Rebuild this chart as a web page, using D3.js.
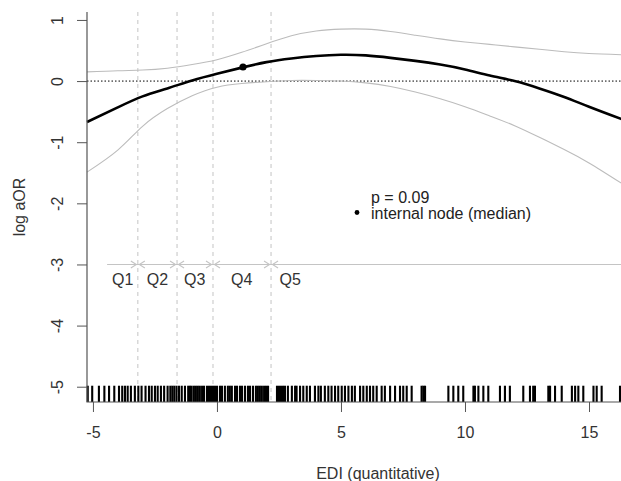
<!DOCTYPE html>
<html>
<head>
<meta charset="utf-8">
<script src="https://cdn.jsdelivr.net/npm/d3@7"></script>
<style>
  body { margin: 0; background: #fff; }
  text { font-family: "Liberation Sans", Arial, sans-serif; }
</style>
</head>
<body>
<div id="chart"></div>
<script>
// x grid of the fitted spline (EDI)
var gridX = [-5.24, -4, -3, -2, -1, 0, 1, 2, 3, 4, 5, 6, 7, 8, 9, 10, 11, 12, 13, 14, 15, 16.3];
// log aOR estimate and 95% band
var fitY = [-0.67, -0.43, -0.25, -0.12, 0.01, 0.12, 0.22, 0.31, 0.37, 0.41, 0.43, 0.42, 0.38, 0.33, 0.27, 0.19, 0.09, 0.0, -0.12, -0.26, -0.42, -0.62];
var upperY = [0.15, 0.17, 0.18, 0.21, 0.27, 0.35, 0.47, 0.61, 0.74, 0.82, 0.85, 0.85, 0.81, 0.75, 0.69, 0.64, 0.60, 0.56, 0.52, 0.48, 0.45, 0.43];
var lowerY = [-1.49, -1.13, -0.74, -0.45, -0.24, -0.10, -0.04, -0.01, 0.01, 0.01, 0.0, -0.03, -0.09, -0.18, -0.29, -0.42, -0.57, -0.73, -0.92, -1.12, -1.34, -1.67];

// quintile cut points and labels
var quintCuts = [-3.19, -1.61, -0.16, 2.18];
var quintEnds = [-4.43, 16.6];
var quintLabels = ["Q1", "Q2", "Q3", "Q4", "Q5"];
var quintLabelX = [-3.8, -2.4, -0.9, 1.0, 2.95];
var quintLevel = -3;

// internal node (median)
var nodeX = 1.05, nodeY = 0.23;

// rug of observed EDI values
var rugX = [-5.21, -5.03, -4.76, -4.54, -4.35, -4.14, -3.95, -3.82, -3.71, -3.60, -3.47, -3.31, -3.17, -3.04,
  -2.88, -2.74, -2.63, -2.50, -2.39, -2.26, -2.13, -1.99, -1.88, -1.80, -1.72, -1.63, -1.53, -1.42, -1.29,
  -1.16, -1.09, -1.02, -0.93, -0.85, -0.77, -0.69, -0.60, -0.52, -0.40, -0.32, -0.24, -0.16, -0.08, 0.0, 0.12,
  0.20, 0.32, 0.44, 0.52, 0.60, 0.73, 0.81, 0.93, 1.01, 1.13, 1.25, 1.33, 1.45, 1.57, 1.65, 1.73, 1.81, 1.90,
  1.98, 2.06, 2.42, 2.50, 2.58, 2.66, 2.74, 2.86, 3.02, 3.15, 3.21, 3.35, 3.48, 3.62, 3.75, 3.95, 4.09, 4.19,
  4.35, 4.49, 4.62, 4.76, 4.89, 5.03, 5.16, 5.30, 5.44, 5.56, 5.77, 5.90, 6.04, 6.17, 6.30, 6.44, 6.64, 6.77,
  6.98, 7.18, 7.38, 7.51, 7.65, 7.85, 8.25, 8.32, 8.39, 9.33, 9.53, 9.73, 9.93, 10.34, 10.40, 10.54, 10.74,
  10.94, 11.41, 11.61, 11.81, 12.35, 12.62, 12.75, 12.82, 13.36, 13.43, 13.63, 13.90, 14.31, 14.44, 14.57,
  14.77, 15.18, 15.31, 15.51, 16.25];

var xTicks = [-5, 0, 5, 10, 15];
var yTicks = [-5, -4, -3, -2, -1, 0, 1];

var width = 621, height = 481;
var padLeft = 87, padTop = 12, padBottom = 402, padRight = 621;

var svg = d3.select("#chart").append("svg")
  .attr("width", width)
  .attr("height", height);

var x = d3.scaleLinear().domain([-5.24, 16.29]).range([padLeft, padRight]);
var y = d3.scaleLinear().domain([-5.25, 1.13]).range([padBottom, padTop]);

// quintile dashed lines
svg.selectAll("line.cut").data(quintCuts).enter().append("line")
  .attr("class", "cut")
  .attr("x1", function (d) { return x(d); }).attr("x2", function (d) { return x(d); })
  .attr("y1", padTop).attr("y2", padBottom)
  .attr("stroke", "#c4c4c4").attr("stroke-width", 1).attr("stroke-dasharray", "4,4");

// zero reference
svg.append("line")
  .attr("x1", padLeft).attr("x2", padRight)
  .attr("y1", y(0)).attr("y2", y(0))
  .attr("stroke", "#000").attr("stroke-width", 1).attr("stroke-dasharray", "1.5,2");

// curves
function curve(vals) {
  return d3.line()
    .x(function (d, i) { return x(gridX[i]); })
    .y(function (d) { return y(d); })
    .curve(d3.curveNatural)(vals);
}
svg.append("path").attr("d", curve(upperY)).attr("fill", "none").attr("stroke", "#bcbcbc").attr("stroke-width", 1.1);
svg.append("path").attr("d", curve(lowerY)).attr("fill", "none").attr("stroke", "#bcbcbc").attr("stroke-width", 1.1);
svg.append("path").attr("d", curve(fitY)).attr("fill", "none").attr("stroke", "#000").attr("stroke-width", 2.6);

svg.append("circle")
  .attr("cx", x(nodeX)).attr("cy", y(nodeY)).attr("r", 3.6).attr("fill", "#000");

// quintile arrows
var bounds = [quintEnds[0]].concat(quintCuts, [quintEnds[1]]);
var ay = y(quintLevel);
svg.append("line")
  .attr("x1", x(bounds[0])).attr("x2", x(bounds[bounds.length - 1]))
  .attr("y1", ay).attr("y2", ay)
  .attr("stroke", "#c4c4c4").attr("stroke-width", 1.1);
quintCuts.forEach(function (c) {
  var cx = x(c);
  [-1, 1].forEach(function (s) {
    svg.append("path")
      .attr("d", "M" + (cx + s * 7) + "," + (ay - 3.5) + "L" + (cx + s * 1.5) + "," + ay + "L" + (cx + s * 7) + "," + (ay + 3.5))
      .attr("fill", "none").attr("stroke", "#c4c4c4").attr("stroke-width", 1.1);
  });
});
svg.selectAll("text.q").data(quintLabels).enter().append("text")
  .attr("class", "q")
  .attr("x", function (d, i) { return x(quintLabelX[i]); })
  .attr("y", 285)
  .attr("text-anchor", "middle")
  .attr("font-size", 16).attr("fill", "#333")
  .text(function (d) { return d; });

// rug
svg.selectAll("line.rug").data(rugX).enter().append("line")
  .attr("class", "rug")
  .attr("x1", function (d) { return x(d); }).attr("x2", function (d) { return x(d); })
  .attr("y1", y(-5) - 1).attr("y2", padBottom)
  .attr("stroke", "#000").attr("stroke-width", 2.1);

// legend
svg.append("text").attr("x", 371).attr("y", 203).attr("font-size", 16).attr("fill", "#222").text("p = 0.09");
svg.append("circle").attr("cx", 357).attr("cy", 212.5).attr("r", 2.4).attr("fill", "#000");
svg.append("text").attr("x", 371).attr("y", 219).attr("font-size", 16).attr("fill", "#222").text("internal node (median)");

// axes
var xAxis = d3.axisBottom(x).tickValues(xTicks).tickSize(10).tickFormat(function (d) { return String(d); });
var gx = svg.append("g").attr("transform", "translate(0," + padBottom + ")").call(xAxis);
gx.select(".domain").remove();
gx.selectAll("line").attr("stroke", "#555");
gx.selectAll("text").attr("y", 36).attr("dy", 0).attr("font-size", 16).attr("fill", "#333")
  .attr("font-family", "Liberation Sans, Arial, sans-serif");

var yAxis = d3.axisLeft(y).tickValues(yTicks).tickSize(10).tickFormat(function (d) { return String(d); });
var gy = svg.append("g").attr("transform", "translate(" + padLeft + ",0)").call(yAxis);
gy.select(".domain").remove();
gy.selectAll("line").attr("stroke", "#555");
gy.selectAll("text").attr("x", 0).attr("dy", 0).attr("text-anchor", "middle")
  .attr("transform", "translate(-24,0) rotate(-90)")
  .attr("font-size", 16).attr("fill", "#333")
  .attr("font-family", "Liberation Sans, Arial, sans-serif");

// L-shaped frame
svg.append("path")
  .attr("d", "M" + padLeft + "," + padTop + "V" + padBottom + "H" + padRight)
  .attr("fill", "none").attr("stroke", "#555").attr("stroke-width", 1.2);

// axis titles
svg.append("text").attr("x", 378).attr("y", 479).attr("text-anchor", "middle")
  .attr("font-size", 16).attr("fill", "#333").text("EDI (quantitative)");
svg.append("text").attr("transform", "translate(25,207) rotate(-90)").attr("text-anchor", "middle")
  .attr("font-size", 16).attr("fill", "#333").text("log aOR");
</script>
</body>
</html>
